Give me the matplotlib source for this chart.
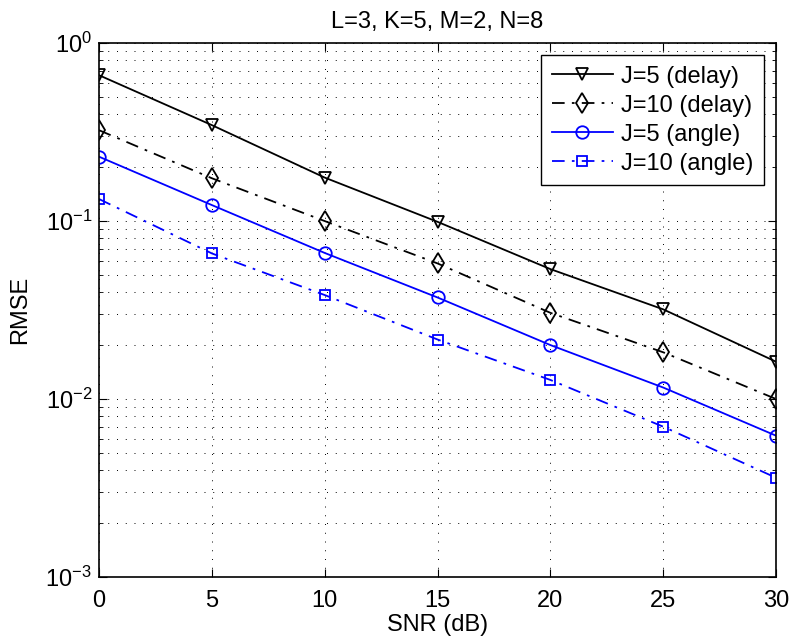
import numpy as np
import matplotlib
matplotlib.use("Agg")
from matplotlib import pyplot as plt
from matplotlib.ticker import LogLocator, NullFormatter

plt.rcParams['font.family'] = ['Liberation Sans', 'DejaVu Sans']
plt.rcParams['mathtext.fontset'] = 'custom'
plt.rcParams['mathtext.rm'] = 'Liberation Sans'

snr = [0, 5, 10, 15, 20, 25, 30]
j5_delay = [0.66, 0.346, 0.1755, 0.099, 0.0537, 0.0319, 0.0162]
j10_delay = [0.324, 0.174, 0.100, 0.0578, 0.0305, 0.0183, 0.0100]
j5_angle = [0.230, 0.123, 0.0662, 0.0372, 0.0201, 0.0116, 0.00622]
j10_angle = [0.133, 0.0658, 0.0384, 0.0216, 0.0128, 0.00699, 0.00361]
labels = ['J=5 (delay)', 'J=10 (delay)', 'J=5 (angle)', 'J=10 (angle)']

fs = 17
fig = plt.figure(figsize=(7.92, 6.43), dpi=100)
ax = fig.add_axes([0.125, 0.1026, 0.855, 0.8304])

dashdot = (0, (7, 4, 1.5, 4))
ax.semilogy(snr, j5_delay, color='k', ls='-', lw=1.3, marker='v', ms=9,
            mfc='none', mew=1.3, label=labels[0])
ax.semilogy(snr, j10_delay, color='k', ls=dashdot, lw=1.3, marker='d', ms=10,
            mfc='none', mew=1.3, label=labels[1])
ax.semilogy(snr, j5_angle, color='#0000ff', ls='-', lw=1.3, marker='o', ms=9,
            mfc='none', mew=1.3, label=labels[2])
ax.semilogy(snr, j10_angle, color='#0000ff', ls=dashdot, lw=1.3, marker='s', ms=7,
            mfc='none', mew=1.3, label=labels[3])

ax.set_xlim(0, 30)
ax.set_ylim(1e-3, 1e0)
ax.set_xticks(snr)
ax.yaxis.set_major_locator(LogLocator(base=10, numticks=10))
ax.yaxis.set_minor_locator(LogLocator(base=10, subs=np.arange(2, 10), numticks=10))
ax.yaxis.set_minor_formatter(NullFormatter())

# matlab style dotted grid
ax.grid(True, which='major', ls=(0, (1, 8)), color='k', lw=0.7)
ax.grid(True, which='minor', axis='y', ls=(0, (1, 8)), color='k', lw=0.7)
ax.tick_params(which='both', direction='in', top=True, right=True, labelsize=fs)
ax.tick_params(which='major', length=6)
ax.tick_params(which='minor', length=3)
ax.tick_params(axis='x', pad=9)
ax.tick_params(axis='y', pad=5)
for s in ax.spines.values():
    s.set_linewidth(1.2)

ax.set_xlabel('SNR (dB)', fontsize=fs, labelpad=2)
ax.set_ylabel('RMSE', fontsize=fs, labelpad=10)
ax.set_title('L=3, K=5, M=2, N=8', fontsize=fs, pad=11)

leg = ax.legend(loc='upper right', fontsize=fs, fancybox=False, framealpha=1,
                edgecolor='k', handlelength=2.6, borderaxespad=0.5,
                labelspacing=0.3, handletextpad=0.35, borderpad=0.45)
leg.get_frame().set_linewidth(1.0)

fig.savefig('out.png', dpi=100)
